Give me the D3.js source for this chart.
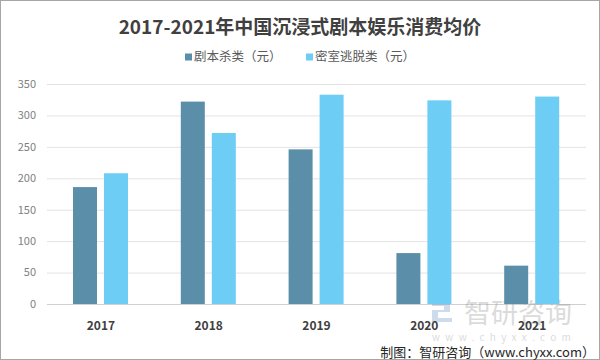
<!DOCTYPE html>
<html><head><meta charset="utf-8">
<script src="https://cdn.jsdelivr.net/npm/d3@7"></script>
<style>body{margin:0;background:#fff}svg{display:block}</style>
</head><body>
<svg id="c" width="600" height="360"></svg>
<script>
const years = ["2017","2018","2019","2020","2021"];
const seriesNames = ["剧本杀类（元）","密室逃脱类（元）"];
const scriptKill = [186, 322, 246, 81, 61];
const escapeRoom = [208, 272, 333, 324, 330];
const yTicks = [0,50,100,150,200,250,300,350];
const colors = ["#5b8ea8","#6dcdf4"];

const svg = d3.select("#c");
const font = "'Noto Sans CJK SC','Noto Sans',sans-serif";
svg.append("rect").attr("x",0.5).attr("y",0.5).attr("width",599).attr("height",359)
  .attr("fill","#fff").attr("stroke","#a6a6a6");

const x0 = d3.scaleBand().domain(years).range([47,586]).padding(0);
const x1 = d3.scaleBand().domain([0,1]).range([26,81]).paddingInner(0.226).paddingOuter(0);
const y = d3.scaleLinear().domain([0,350]).range([304,84]);

// grid
svg.append("g").selectAll("line").data(yTicks).join("line")
  .attr("x1",47).attr("x2",586).attr("y1",d=>y(d)+0.5).attr("y2",d=>y(d)+0.5)
  .attr("stroke",d=>d===0?"#d0d0d0":"#e3e3e3").attr("stroke-width",1);

// y labels
svg.append("g").selectAll("text").data(yTicks).join("text")
  .attr("x",36).attr("y",d=>y(d)).attr("dy","0.35em").attr("text-anchor","end")
  .attr("font-family",font).attr("font-size",11).attr("fill","#7f7f7f").text(d=>d);

// watermark (behind bars/labels)
const wm = svg.append("g").attr("opacity",0.3);
wm.append("text").attr("x",464).attr("y",314).attr("dy","0.35em")
  .attr("font-family",font).attr("font-size",27).attr("fill","#8a8a8a").text("智研咨询");
wm.append("text").attr("x",432).attr("y",337).attr("dy","0.35em").attr("letter-spacing","5.3")
  .attr("font-family",font).attr("font-size",10).attr("fill","#8a8a8a").text("www.chyxx.com");
wm.append("path").attr("d","M432,302h18v10h-12v6h14v4h-20v-12h12v-4h-12z").attr("fill","#5b8ec6");

// bars
const data = years.map((yr,i)=>({yr, vals:[scriptKill[i], escapeRoom[i]]}));
const g = svg.append("g").selectAll("g").data(data).join("g")
  .attr("transform",d=>`translate(${x0(d.yr)},0)`);
g.selectAll("rect").data(d=>d.vals.map((v,k)=>({v,k}))).join("rect")
  .attr("x",d=>x1(d.k)).attr("width",x1.bandwidth())
  .attr("y",d=>y(d.v)).attr("height",d=>y(0)-y(d.v)).attr("fill",d=>colors[d.k]);

// x labels
svg.append("g").selectAll("text").data(years).join("text")
  .attr("x",d=>x0(d)+x0.bandwidth()/2).attr("y",326).attr("dy","0.35em").attr("text-anchor","middle")
  .attr("font-family",font).attr("font-weight","bold").attr("font-size",12).attr("fill","#404040").text(d=>d);

// title
svg.append("text").attr("x",300).attr("y",27).attr("dy","0.35em").attr("text-anchor","middle")
  .attr("font-family",font).attr("font-weight","bold").attr("font-size",19).attr("fill","#404040")
  .text("2017-2021年中国沉浸式剧本娱乐消费均价");

// legend
const legX = [185, 306];
const leg = svg.append("g").selectAll("g").data(seriesNames).join("g")
  .attr("transform",(d,i)=>`translate(${legX[i]},57)`);
leg.append("rect").attr("x",0).attr("y",-3.5).attr("width",7).attr("height",7).attr("fill",(d,i)=>colors[i]);
leg.append("text").attr("x",9).attr("y",0).attr("dy","0.35em")
  .attr("font-family",font).attr("font-size",12.5).attr("fill","#595959").text(d=>d);

// footer
svg.append("text").attr("x",595).attr("y",352).attr("dy","0.35em").attr("text-anchor","end")
  .attr("font-family",font).attr("font-size",13).attr("fill","#262626").text("制图：智研咨询（www.chyxx.com）");
</script>
</body></html>
